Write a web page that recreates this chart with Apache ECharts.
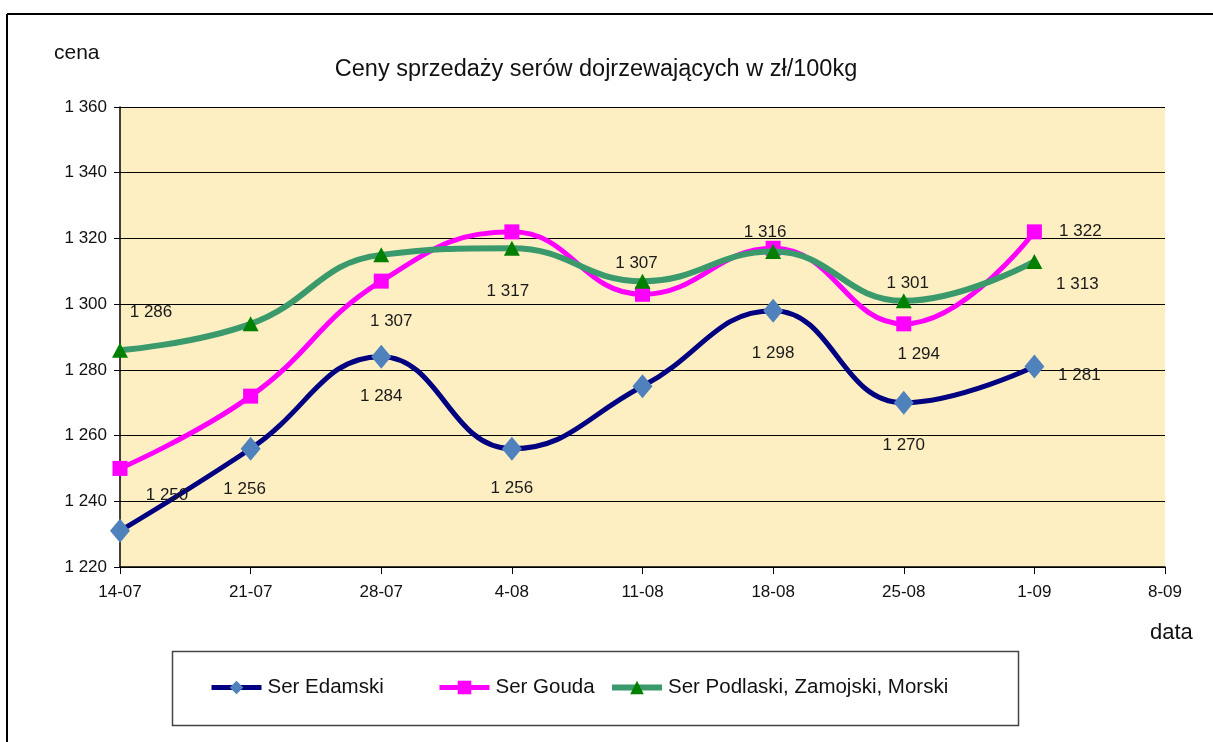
<!DOCTYPE html>
<html>
<head>
<meta charset="utf-8">
<script src="https://cdn.jsdelivr.net/npm/echarts@6/dist/echarts.min.js"></script>
<style>
html,body{margin:0;padding:0;background:#fff;}
#chart{width:1213px;height:742px;}
</style>
</head>
<body>
<div id="chart"></div>
<script>
// ---- data ----
const categories = ['14-07','21-07','28-07','4-08','11-08','18-08','25-08','1-09','8-09'];
const serEdamski = [1231, 1256, 1284, 1256, 1275, 1298, 1270, 1281];
const serGouda   = [1250, 1272, 1307, 1322, 1303, 1317, 1294, 1322];
const serPodlaski= [1286, 1294, 1315, 1317, 1307, 1316, 1301, 1313];
const seriesNames = ['Ser Edamski', 'Ser Gouda', 'Ser Podlaski, Zamojski, Morski'];
const yMin = 1220, yMax = 1360, yStep = 20;

// ---- label placement (style, not data): index -> [dx, dy] ----
const labelOffsets = [
  {1:[-6,41], 2:[0,40], 3:[0,40], 5:[0,43], 6:[0,43], 7:[45,9]},
  {0:[47,27], 2:[10,40], 6:[15,30], 7:[46,-1]},
  {0:[31,-38], 3:[-4,43], 4:[-6,-18], 5:[-8,-19], 6:[4,-18], 7:[43,23]}
];

const FONT = '"Liberation Sans", Arial, sans-serif';
const fmt = v => String(v).replace(/\B(?=(\d{3})+(?!\d))/g, ' ');

function buildData(values, offs) {
  return values.map((v, i) => {
    const o = offs[i];
    return {
      value: v,
      label: o ? {show: true, position: 'inside', offset: o} : {show: false}
    };
  });
}

const styles = [
  {line: '#000080', marker: '#4F81BD', symbol: 'diamond', size: [20, 24], width: 5},
  {line: '#FF00FF', marker: '#FF00FF', symbol: 'rect', size: 15, width: 5},
  {line: '#3A9A6C', marker: '#008000', symbol: 'triangle', size: [16, 15], width: 6}
];
const allValues = [serEdamski, serGouda, serPodlaski];

const series = allValues.map((vals, k) => ({
  name: seriesNames[k],
  type: 'line',
  smooth: 0.45,
  data: buildData(vals, labelOffsets[k]),
  symbol: styles[k].symbol,
  symbolSize: styles[k].size,
  showAllSymbol: true,
  lineStyle: {color: styles[k].line, width: styles[k].width},
  itemStyle: {color: styles[k].marker, borderWidth: 0},
  label: {
    formatter: p => fmt(p.value),
    color: '#1a1a1a',
    fontFamily: FONT,
    fontSize: 17
  },
  emphasis: {disabled: true},
  z: 2 + k
}));

const legendLefts = [209, 437, 609];
const legends = seriesNames.map((n, k) => ({
  left: legendLefts[k],
  top: 677,
  padding: 0,
  data: [{name: n}],
  itemWidth: 50,
  itemHeight: 17,
  selectedMode: false,
  itemStyle: {color: styles[k].marker},
  lineStyle: {color: styles[k].line, width: styles[k].width},
  textStyle: {fontFamily: FONT, fontSize: 20.5, color: '#111', padding: [0, 0, 0, 1]}
}));

const chart = echarts.init(document.getElementById('chart'), null, {renderer: 'canvas'});
chart.setOption({
  animation: false,
  backgroundColor: '#ffffff',
  title: {
    text: 'Ceny sprzedaży serów dojrzewających w zł/100kg',
    left: 591,
    top: 53,
    textAlign: 'center',
    textStyle: {fontFamily: FONT, fontSize: 23.5, fontWeight: 'normal', color: '#111'}
  },
  grid: {left: 120, right: 48, top: 107, bottom: 175, show: true, backgroundColor: '#FEEFC3', borderWidth: 0},
  legend: legends,
  xAxis: {
    type: 'category',
    data: categories,
    boundaryGap: false,
    axisLine: {lineStyle: {color: '#000', width: 1.5}},
    axisTick: {show: true, length: 7, lineStyle: {color: '#000'}, alignWithLabel: true},
    axisLabel: {fontFamily: FONT, fontSize: 17, color: '#111', margin: 17},
    splitLine: {show: false}
  },
  yAxis: {
    type: 'value',
    min: yMin,
    max: yMax,
    interval: yStep,
    axisLine: {show: true, lineStyle: {color: '#000', width: 1.5}},
    axisTick: {show: true, length: 6, lineStyle: {color: '#000'}},
    axisLabel: {fontFamily: FONT, fontSize: 17, color: '#111', margin: 13, formatter: v => fmt(v)},
    splitLine: {show: true, lineStyle: {color: '#000', width: 1.2}}
  },
  graphic: [
    {type: 'line', shape: {x1: 7, y1: 14, x2: 1213, y2: 14}, style: {stroke: '#000', lineWidth: 2}},
    {type: 'line', shape: {x1: 7, y1: 14, x2: 7, y2: 742}, style: {stroke: '#000', lineWidth: 2}},
    {type: 'rect', shape: {x: 172.5, y: 651.5, width: 846, height: 74}, style: {fill: 'none', stroke: '#444', lineWidth: 1.5}},
    {type: 'text', left: 54, top: 43, style: {text: 'cena', font: '21px ' + FONT, fill: '#111'}},
    {type: 'text', left: 1150, top: 622, style: {text: 'data', font: '22px ' + FONT, fill: '#111'}}
  ],
  series: series
});
</script>
</body>
</html>
